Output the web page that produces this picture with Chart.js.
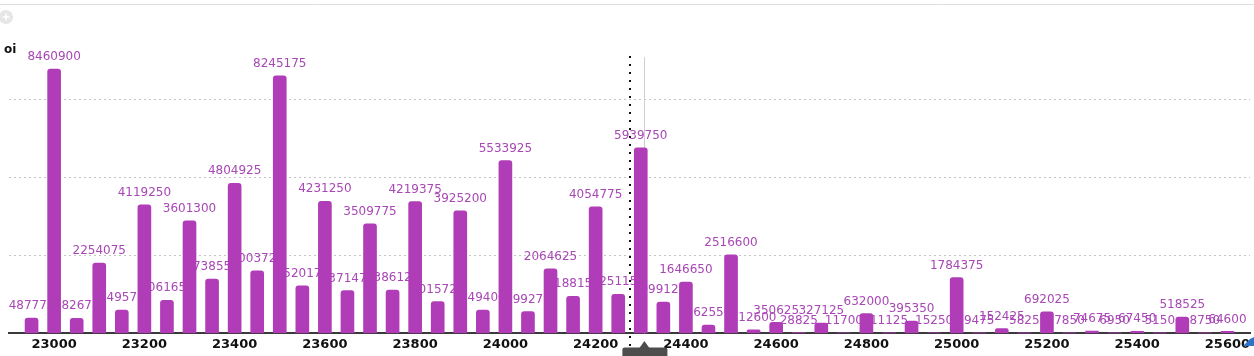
<!DOCTYPE html>
<html>
<head>
<meta charset="utf-8">
<script src="https://cdn.jsdelivr.net/npm/chart.js@4.4.1/dist/chart.umd.min.js"></script>
<style>
  html, body { margin: 0; padding: 0; background: #ffffff; }
  #wrap { width: 1254px; height: 356px; position: relative; }
</style>
</head>
<body>
<div id="wrap"><canvas id="c" width="1254" height="356"></canvas></div>
<script>
// ---- data ----
const strikes = [22950, 23000, 23050, 23100, 23150, 23200, 23250, 23300, 23350, 23400,
                 23450, 23500, 23550, 23600, 23650, 23700, 23750, 23800, 23850, 23900,
                 23950, 24000, 24050, 24100, 24150, 24200, 24250, 24300, 24350, 24400,
                 24450, 24500, 24550, 24600, 24650, 24700, 24750, 24800, 24850, 24900,
                 24950, 25000, 25050, 25100, 25150, 25200, 25250, 25300, 25350, 25400,
                 25450, 25500, 25550, 25600];
const oiValues = [487775, 8460900, 482675, 2254075, 749575, 4119250, 1061650, 3601300, 1738550, 4804925,
                  2003725, 8245175, 1520175, 4231250, 1371475, 3509775, 1386125, 4219375, 1015725, 3925200,
                  749400, 5533925, 699275, 2064625, 1188150, 4054775, 1251150, 5939750, 999125, 1646650,
                  262550, 2516600, 112600, 350625, 28825, 327125, 11700, 632000, 11125, 395350,
                  15250, 1784375, 9475, 152425, 5825, 692025, 7850, 74675, 6950, 67450,
                  5150, 518525, 8750, 64600];
const xTickLabels = [23000, 23200, 23400, 23600, 23800, 24000, 24200, 24400, 24600, 24800, 25000, 25200, 25400, 25600];
const yGridValues = [0, 2500000, 5000000, 7500000, 10000000];
const spotStrike = 24275;
const hoverStrike = 24308;
const seriesName = 'oi';

const BAR = '#b03cb8';
const LABEL = '#a847b5';

const decor = {
  id: 'decor',
  beforeDraw(chart) {
    const ctx = chart.ctx;
    ctx.save();
    ctx.strokeStyle = '#dedede';
    ctx.lineWidth = 1;
    ctx.beginPath(); ctx.moveTo(0, 4.5); ctx.lineTo(1254, 4.5); ctx.stroke();
    ctx.fillStyle = '#e6e6e6';
    ctx.beginPath(); ctx.arc(6, 17, 7, 0, Math.PI * 2); ctx.fill();
    ctx.strokeStyle = '#ffffff'; ctx.lineWidth = 1.5;
    ctx.beginPath(); ctx.moveTo(2.5, 17); ctx.lineTo(9.5, 17); ctx.moveTo(6, 13.5); ctx.lineTo(6, 20.5); ctx.stroke();
    ctx.fillStyle = '#111';
    ctx.font = 'bold 12px "DejaVu Sans"';
    ctx.textBaseline = 'middle'; ctx.textAlign = 'left';
    ctx.fillText(seriesName, 4, 50);
    ctx.restore();
  },
  beforeDatasetsDraw(chart) {
    const ctx = chart.ctx;
    const xs = chart.scales.x, ys = chart.scales.y;
    ctx.save();
    const hx = Math.round(xs.getPixelForValue(hoverStrike)) + 0.5;
    ctx.strokeStyle = '#cfcfcf'; ctx.lineWidth = 1;
    ctx.beginPath(); ctx.moveTo(hx, 57); ctx.lineTo(hx, ys.getPixelForValue(0)); ctx.stroke();
    ctx.font = '12px "DejaVu Sans"';
    ctx.fillStyle = LABEL;
    ctx.textAlign = 'center'; ctx.textBaseline = 'middle';
    const meta = chart.getDatasetMeta(0);
    meta.data.forEach((bar, i) => {
      ctx.fillText(String(oiValues[i]), bar.x, bar.y - 12);
    });
    ctx.restore();
  },
  afterDatasetsDraw(chart) {
    const ctx = chart.ctx;
    const xs = chart.scales.x;
    ctx.save();
    const sx = Math.round(xs.getPixelForValue(spotStrike));
    ctx.fillStyle = '#111';
    for (let y = 56; y < 356; y += 8) ctx.fillRect(sx - 1, y, 2, 2);
    const hx = xs.getPixelForValue(hoverStrike);
    ctx.fillStyle = '#4d4d4d';
    ctx.beginPath();
    ctx.moveTo(hx, 341); ctx.lineTo(hx + 5, 348); ctx.lineTo(hx - 5, 348); ctx.closePath(); ctx.fill();
    ctx.beginPath();
    if (ctx.roundRect) ctx.roundRect(hx - 22, 347.5, 45, 12, 2); else ctx.rect(hx - 22, 347.5, 45, 12);
    ctx.fill();
    ctx.fillStyle = '#2f74c9';
    ctx.beginPath();
    ctx.moveTo(1243, 346); ctx.lineTo(1250, 339); ctx.lineTo(1254, 337); ctx.lineTo(1254, 346); ctx.closePath();
    ctx.fill();
    ctx.restore();
  }
};

new Chart(document.getElementById('c'), {
  type: 'bar',
  data: {
    datasets: [{
      label: seriesName,
      data: strikes.map((s, i) => ({ x: s, y: oiValues[i] })),
      backgroundColor: BAR,
      borderRadius: 3,
      borderSkipped: 'bottom',
      barThickness: 13
    }]
  },
  options: {
    responsive: false,
    devicePixelRatio: 1,
    animation: false,
    layout: { padding: { left: 9, right: 4, top: 21, bottom: 1 } },
    plugins: { legend: { display: false }, tooltip: { enabled: false } },
    scales: {
      x: {
        type: 'linear',
        min: 22900,
        max: 25650,
        offset: false,
        grid: { display: false, drawTicks: false },
        border: { display: true, color: '#3a3a3a', width: 2 },
        afterBuildTicks: (axis) => { axis.ticks = xTickLabels.map(v => ({ value: v })); },
        ticks: {
          autoSkip: false, maxRotation: 0, padding: 3, color: '#111',
          font: { family: 'DejaVu Sans', weight: 'bold', size: 13 },
          callback: (v) => String(v)
        }
      },
      y: {
        min: 0,
        max: 10000000,
        afterBuildTicks: (axis) => { axis.ticks = yGridValues.map(v => ({ value: v })); },
        ticks: { display: false },
        grid: {
          drawTicks: false,
          lineWidth: 1,
          color: (c) => (c.tick && (c.tick.value === 0 || c.tick.value === 10000000)) ? 'rgba(0,0,0,0)' : '#c4c4c4'
        },
        border: { display: false, dash: [2, 3] }
      }
    }
  },
  plugins: [decor]
});
</script>
</body>
</html>
